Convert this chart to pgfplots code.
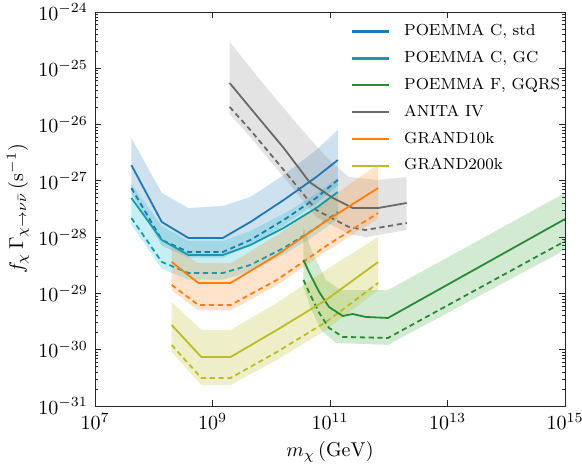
\documentclass[border=0pt]{standalone}
\usepackage{pgfplots}
\pgfplotsset{compat=1.18}

\definecolor{cstd}{HTML}{1F77B4}
\definecolor{cgc}{HTML}{17BECF}
\definecolor{cgcline}{HTML}{1A9AA8}
\definecolor{cgqrs}{HTML}{2CA02C}
\definecolor{cgqrsline}{HTML}{2A8A35}
\definecolor{canita}{HTML}{7F7F7F}
\definecolor{canitaline}{HTML}{6A6A6A}
\definecolor{cgten}{HTML}{FF7F0E}
\definecolor{cgtwo}{HTML}{BCBD22}

\begin{document}
\begin{tikzpicture}
\begin{axis}[
  name=ax,
  scale only axis,
  width=235pt, height=197pt,
  xmode=log, ymode=log,
  xmin=1e7, xmax=1e15, ymin=1e-31, ymax=1e-24,
  xtick={1e7,1e9,1e11,1e13,1e15},
  xminorticks=false,
  ytick={1e-31,1e-30,1e-29,1e-28,1e-27,1e-26,1e-25,1e-24},
  tick align=inside,
  major tick length=3pt, minor tick length=1.6pt,
  axis line style={black!85, line width=0.5pt},
  every tick/.style={black!85, line width=0.4pt},
  xlabel={$m_\chi\,(\mathrm{GeV})$},
  ylabel={$f_\chi\,\Gamma_{\chi\rightarrow\nu\bar\nu}\,(\mathrm{s}^{-1})$},
  xlabel style={yshift=1pt},
  ylabel style={yshift=-2pt},
  legend style={at={(0.531,0.99)}, anchor=north west, draw=none, fill=none,
    font=\footnotesize, row sep=2.2pt},
  legend cell align=left,
  legend image code/.code={\draw[#1, line width=1.1pt] (0pt,0pt) -- (18.5pt,0pt);},
  /tikz/every odd column/.append style={column sep=5pt},
  every axis plot/.append style={line width=0.9pt},
]

% ---------- uncertainty bands ----------
\addplot[draw=none, fill=cstd, fill opacity=0.22, forget plot] coordinates {
  (4.16e7,5.78e-27) (1.37e8,6.10e-28) (3.89e8,3.30e-28) (1.50e9,3.58e-28)
  (4.41e9,5.18e-28) (1.63e10,1.27e-27) (5.83e10,3.54e-27) (1.36e11,8.02e-27)
  (1.36e11,8.26e-28) (5.83e10,3.95e-28) (1.63e10,1.60e-28) (4.41e9,7.07e-29)
  (1.50e9,4.34e-29) (3.89e8,4.34e-29) (1.37e8,7.07e-29) (4.16e7,5.94e-28)
} -- cycle;

\addplot[draw=none, fill=cgc, fill opacity=0.25, forget plot] coordinates {
  (4.16e7,8.84e-28) (1.37e8,1.58e-28) (3.89e8,8.59e-29) (1.50e9,8.59e-29)
  (4.41e9,1.29e-28) (1.63e10,2.60e-28) (5.83e10,5.87e-28) (1.36e11,1.13e-27)
  (1.36e11,2.14e-28) (5.83e10,1.11e-28) (1.63e10,4.89e-29) (4.41e9,2.44e-29)
  (1.50e9,1.76e-29) (3.89e8,1.76e-29) (1.37e8,2.76e-29) (4.16e7,1.66e-28)
} -- cycle;

\addplot[draw=none, fill=cgqrs, fill opacity=0.22, forget plot] coordinates {
  (3.53e10,1.52e-28) (4.81e10,5.93e-29) (8.57e10,1.74e-29) (1.53e11,1.15e-29)
  (9.70e11,1.15e-29) (1e15,6.10e-28)
  (1e15,5.93e-29) (9.70e11,1.22e-30) (1.26e11,1.32e-30) (7.06e10,2.25e-30)
  (4.81e10,5.09e-30) (3.53e10,1.30e-29)
} -- cycle;

\addplot[draw=none, fill=canita, fill opacity=0.22, forget plot] coordinates {
  (1.96e9,2.93e-25) (6.49e9,6.19e-26) (3.03e10,9.06e-27) (8.57e10,2.66e-27)
  (2.08e11,1.17e-27) (6.61e11,1.04e-27) (2.02e12,1.17e-27)
  (2.02e12,1.34e-28) (4.01e11,1.00e-28) (2.08e11,1.14e-28) (5.83e10,2.28e-28)
  (1.63e10,1.17e-27) (4.41e9,6.00e-27) (1.96e9,1.55e-26)
} -- cycle;

\addplot[draw=none, fill=cgten, fill opacity=0.22, forget plot] coordinates {
  (2.02e8,7.00e-29) (5.71e8,3.45e-29) (2.04e9,3.45e-29) (1.25e10,1.08e-28)
  (8.57e10,4.35e-28) (6.61e11,2.00e-27)
  (6.61e11,2.15e-28) (8.57e10,5.58e-29) (1.25e10,1.39e-29) (2.04e9,5.00e-30)
  (5.71e8,5.00e-30) (2.02e8,1.14e-29)
} -- cycle;

\addplot[draw=none, fill=cgtwo, fill opacity=0.25, forget plot] coordinates {
  (2.02e8,7.06e-30) (6.43e8,2.25e-30) (2.04e9,2.25e-30) (1.25e10,6.78e-30)
  (8.57e10,2.63e-29) (6.61e11,1.01e-28)
  (6.61e11,1.15e-29) (8.57e10,2.24e-30) (1.25e10,6.61e-31) (2.04e9,2.37e-31)
  (6.43e8,2.37e-31) (2.02e8,9.12e-31)
} -- cycle;

% ---------- dashed curves ----------
\addplot[cstd, dash pattern=on 2.6pt off 1.8pt, forget plot] coordinates {
  (4.16e7,7.48e-28) (1.37e8,8.91e-29) (3.89e8,5.46e-29) (1.50e9,5.46e-29)
  (4.41e9,8.91e-29) (1.63e10,2.02e-28) (5.83e10,4.97e-28) (1.36e11,1.04e-27)};
\addplot[cgcline, dash pattern=on 2.6pt off 1.8pt, forget plot] coordinates {
  (4.16e7,2.19e-28) (1.37e8,3.63e-29) (3.89e8,2.31e-29) (1.50e9,2.31e-29)
  (4.41e9,3.21e-29) (1.63e10,6.43e-29) (5.83e10,1.46e-28) (1.36e11,2.81e-28)};
\addplot[cgqrsline, dash pattern=on 2.6pt off 1.8pt, forget plot] coordinates {
  (3.53e10,1.74e-29) (4.46e10,1.02e-29) (6.55e10,4.51e-30) (9.62e10,2.44e-30)
  (1.65e11,1.69e-30) (9.70e11,1.62e-30) (1e15,8.50e-29)};
\addplot[canitaline, dash pattern=on 2.6pt off 1.8pt, forget plot] coordinates {
  (1.96e9,2.06e-26) (4.41e9,8.02e-27) (1.63e10,1.56e-27) (5.83e10,3.04e-28)
  (2.08e11,1.52e-28) (4.01e11,1.34e-28) (2.02e12,1.79e-28)};
\addplot[cgten, dash pattern=on 2.6pt off 1.8pt, forget plot] coordinates {
  (2.02e8,1.42e-29) (5.71e8,6.25e-30) (2.04e9,6.25e-30) (1.25e10,1.74e-29)
  (8.57e10,6.98e-29) (6.61e11,2.69e-28)};
\addplot[cgtwo, dash pattern=on 2.6pt off 1.8pt, forget plot] coordinates {
  (2.02e8,1.22e-30) (6.43e8,3.16e-31) (2.04e9,3.16e-31) (1.25e10,9.14e-31)
  (8.57e10,3.12e-30) (6.61e11,1.54e-29)};

% ---------- central curves ----------
\addplot[cstd] coordinates {
  (4.16e7,1.91e-27) (1.37e8,1.86e-28) (3.89e8,9.68e-29) (1.50e9,9.68e-29)
  (4.41e9,1.86e-28) (1.63e10,4.58e-28) (5.83e10,1.17e-27) (1.36e11,2.35e-27)};
\addlegendentry{POEMMA C, std}
\addplot[cgcline] coordinates {
  (4.16e7,4.97e-28) (1.37e8,8.91e-29) (3.89e8,4.83e-29) (1.50e9,4.83e-29)
  (4.41e9,7.26e-29) (1.63e10,1.46e-28) (5.83e10,3.30e-28) (1.36e11,6.35e-28)};
\addlegendentry{POEMMA C, GC}
\addplot[cgqrsline] coordinates {
  (3.53e10,3.94e-29) (4.46e10,2.31e-29) (6.55e10,1.06e-29) (9.62e10,5.75e-30)
  (1.65e11,3.98e-30) (2.43e11,4.32e-30) (4.01e11,3.83e-30) (9.70e11,3.67e-30)
  (1e15,2.10e-28)};
\addlegendentry{POEMMA F, GQRS}
\addplot[canitaline] coordinates {
  (1.96e9,5.48e-26) (4.41e9,1.97e-26) (1.63e10,3.84e-27) (4.46e10,9.55e-28)
  (1.12e11,4.97e-28) (2.43e11,3.30e-28) (6.61e11,3.30e-28) (2.02e12,4.05e-28)};
\addlegendentry{ANITA IV}
\addplot[cgten] coordinates {
  (2.02e8,3.63e-29) (5.71e8,1.54e-29) (2.04e9,1.54e-29) (1.25e10,4.83e-29)
  (8.57e10,1.94e-28) (6.61e11,7.48e-28)};
\addlegendentry{GRAND10k}
\addplot[cgtwo] coordinates {
  (2.02e8,2.75e-30) (6.43e8,7.45e-31) (2.04e9,7.45e-31) (1.25e10,2.25e-30)
  (8.57e10,7.67e-30) (6.61e11,3.63e-29)};
\addlegendentry{GRAND200k}

\end{axis}
\pgfresetboundingbox
\path (ax.south west) ++(-47.5pt,-28.5pt) rectangle ++(291pt,231.5pt);
\end{tikzpicture}
\end{document}
